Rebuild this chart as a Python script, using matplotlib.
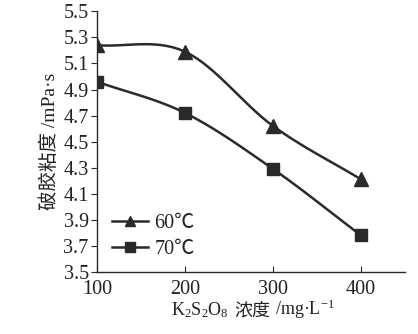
import numpy as np
import matplotlib
matplotlib.use("Agg")
import matplotlib.pyplot as plt
from matplotlib.offsetbox import TextArea, HPacker, AnnotationBbox

conc = [100, 200, 300, 400]
visc_60 = [5.24, 5.19, 4.62, 4.21]
visc_70 = [4.96, 4.72, 4.29, 3.78]
labels = ["60℃", "70℃"]
yticks = [3.5, 3.7, 3.9, 4.1, 4.3, 4.5, 4.7, 4.9, 5.1, 5.3, 5.5]
xticks = [100, 200, 300, 400]
xlabel_parts = ["K$_2$S$_2$O$_8$", "浓度", "/mg·L$^{-1}$"]

plt.rcParams["font.family"] = ["Liberation Serif", "Noto Sans CJK SC"]
plt.rcParams["mathtext.fontset"] = "custom"
plt.rcParams["mathtext.rm"] = "Liberation Serif"
plt.rcParams["mathtext.it"] = "Liberation Serif:italic"
plt.rcParams["mathtext.default"] = "rm"


def smooth(x, y, n=40):
    x = np.asarray(x, float); y = np.asarray(y, float)
    px = np.concatenate([[2 * x[0] - x[1]], x, [2 * x[-1] - x[-2]]])
    py = np.concatenate([[2 * y[0] - y[1]], y, [2 * y[-1] - y[-2]]])
    xs, ys = [], []
    for i in range(1, len(px) - 2):
        t = np.linspace(0, 1, n)[:, None]
        p0, p1, p2, p3 = [np.array([px[j], py[j]]) for j in range(i - 1, i + 3)]
        c1 = p1 + (p2 - p0) / 6
        c2 = p2 - (p3 - p1) / 6
        pts = ((1 - t) ** 3 * p1 + 3 * (1 - t) ** 2 * t * c1
               + 3 * (1 - t) * t ** 2 * c2 + t ** 3 * p2)
        xs.extend(pts[:, 0]); ys.extend(pts[:, 1])
    return xs, ys


fig = plt.figure(figsize=(4.18, 3.34), dpi=100)
ax = fig.add_axes([0.232, 0.186, 0.737, 0.780])
col = "#2a2a2a"
tcol = "#222222"
for y, m, lab in [(visc_60, "^", labels[0]), (visc_70, "s", labels[1])]:
    sx, sy = smooth(conc, y)
    ax.plot(sx, sy, color=col, lw=1.8)
    ax.plot(conc, y, linestyle="none", marker=m, color=col, ms=10 if m == "^" else 8)
    ax.plot([], [], color=col, lw=1.8, marker=m, ms=7, label=lab)

ax.set_xlim(100, 450)
ax.set_ylim(3.5, 5.5)
ax.set_xticks(xticks)
ax.set_yticks(yticks)
ax.set_yticklabels([f"{v:.1f}" for v in yticks])
ax.spines["top"].set_visible(False)
ax.spines["right"].set_visible(False)
for s in ("left", "bottom"):
    ax.spines[s].set_color(col)
    ax.spines[s].set_linewidth(1.0)
ax.tick_params(axis="y", direction="out", length=4, color=col, labelsize=14.5,
               pad=2, labelcolor=tcol)
ax.tick_params(axis="x", direction="in", length=4, color=col, labelsize=14.5,
               pad=6, labelcolor=tcol)

ax.set_ylabel("破胶粘度 /mPa·s", fontsize=14, color=tcol, labelpad=3)

parts = [TextArea(p, textprops=dict(fontsize=13, color=tcol)) for p in xlabel_parts]
pack = HPacker(children=parts, align="baseline", pad=0, sep=4)
fig.add_artist(AnnotationBbox(pack, (0.605, 0.074), xycoords="figure fraction",
                              frameon=False, box_alignment=(0.5, 0.5)))

leg = ax.legend(loc="lower left", bbox_to_anchor=(-0.01, -0.02), frameon=False,
                handlelength=1.8, handletextpad=0.3, labelspacing=0.35,
                prop={"size": 14.5})
for t in leg.get_texts():
    t.set_color(tcol)

fig.savefig("out.png", dpi=100)
